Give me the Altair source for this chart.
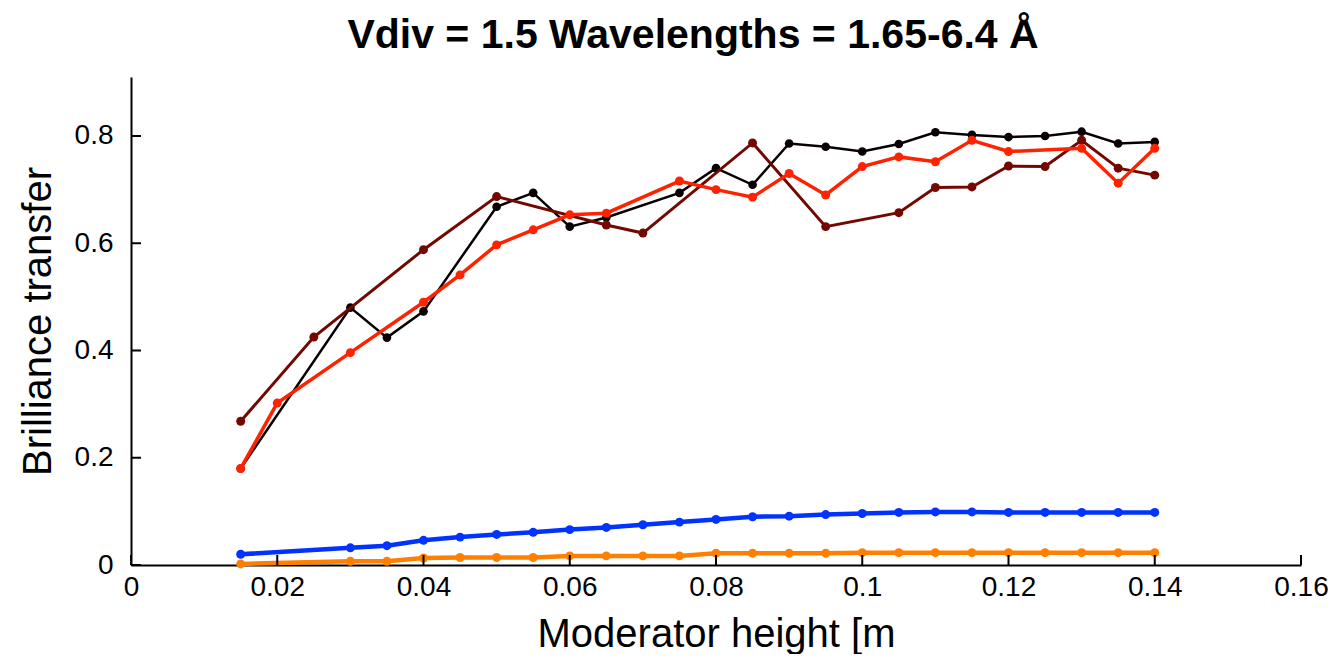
import altair as alt
import pandas as pd

# ---- data ----
x_black = [0.015, 0.03, 0.035, 0.04, 0.05, 0.055, 0.06, 0.065, 0.075, 0.08, 0.085, 0.09,
           0.095, 0.10, 0.105, 0.11, 0.115, 0.12, 0.125, 0.13, 0.135, 0.14]
y_black = [0.180, 0.480, 0.424, 0.473, 0.668, 0.694, 0.631, 0.648, 0.694, 0.740, 0.709, 0.786,
           0.780, 0.771, 0.785, 0.807, 0.802, 0.798, 0.800, 0.808, 0.786, 0.789]

x_dred = [0.015, 0.025, 0.04, 0.05, 0.065, 0.07, 0.085, 0.095, 0.105, 0.11, 0.115, 0.12,
          0.125, 0.13, 0.135, 0.14]
y_dred = [0.268, 0.425, 0.588, 0.687, 0.634, 0.619, 0.787, 0.631, 0.657, 0.704, 0.705, 0.744,
          0.743, 0.792, 0.740, 0.727]

x_red = [0.015, 0.02, 0.03, 0.04, 0.045, 0.05, 0.055, 0.06, 0.065, 0.075, 0.08, 0.085, 0.09,
         0.095, 0.10, 0.105, 0.11, 0.115, 0.12, 0.13, 0.135, 0.14]
y_red = [0.180, 0.302, 0.396, 0.490, 0.541, 0.597, 0.625, 0.653, 0.656, 0.716, 0.700, 0.686, 0.730,
         0.690, 0.743, 0.761, 0.752, 0.792, 0.771, 0.777, 0.712, 0.777]

x_low = [0.015, 0.03, 0.035, 0.04, 0.045, 0.05, 0.055, 0.06, 0.065, 0.07, 0.075, 0.08, 0.085,
         0.09, 0.095, 0.10, 0.105, 0.11, 0.115, 0.12, 0.125, 0.13, 0.135, 0.14]
y_blue = [0.020, 0.032, 0.036, 0.046, 0.052, 0.057, 0.061, 0.066, 0.070, 0.075, 0.080, 0.085, 0.090,
          0.091, 0.094, 0.096, 0.098, 0.099, 0.099, 0.098, 0.098, 0.098, 0.098, 0.098]
y_orange = [0.002, 0.007, 0.007, 0.013, 0.014, 0.014, 0.014, 0.017, 0.017, 0.017, 0.017, 0.022, 0.022,
            0.022, 0.022, 0.023, 0.023, 0.023, 0.023, 0.023, 0.023, 0.023, 0.023, 0.023]

x_ticks = [0, 0.02, 0.04, 0.06, 0.08, 0.10, 0.12, 0.14, 0.16]
y_ticks = [0, 0.2, 0.4, 0.6, 0.8]

TITLE = "Vdiv = 1.5 Wavelengths = 1.65-6.4 Å"
X_TITLE = "Moderator height [m"
Y_TITLE = "Brilliance transfer"

W, H = 1170, 488
FONT = "Liberation Sans"

xscale = alt.Scale(domain=[0, 0.16], nice=False, zero=False)
yscale = alt.Scale(domain=[0, 0.91], nice=False, zero=False)

x_axis = alt.Axis(values=x_ticks, format="~g", title=X_TITLE, titleY=81,
                  titleBaseline="alphabetic")
y_axis = alt.Axis(values=y_ticks, format="~g", title=Y_TITLE, titleX=-81, titleY=H / 2,
                  titleBaseline="alphabetic", titleAngle=270)


def series(xs, ys, color, sw, size):
    df = pd.DataFrame({"x": xs, "y": ys})
    base = alt.Chart(df).encode(
        x=alt.X("x:Q", scale=xscale, axis=x_axis),
        y=alt.Y("y:Q", scale=yscale, axis=y_axis),
    )
    return [base.mark_line(color=color, strokeWidth=sw),
            base.mark_point(filled=True, color=color, size=size, opacity=1, shape="circle")]


layers = []
layers += series(x_black, y_black, "#080000", 2.5, 75)
layers += series(x_dred, y_dred, "#720800", 3, 80)
layers += series(x_red, y_red, "#ff2200", 3.5, 80)
layers += series(x_low, y_blue, "#0033ff", 4.5, 80)
layers += series(x_low, y_orange, "#ff8000", 4.5, 80)

xt = alt.Chart(pd.DataFrame({"t": x_ticks})).mark_rule(color="black", strokeWidth=2).encode(
    x=alt.X("t:Q", scale=xscale, axis=x_axis), y=alt.value(H), y2=alt.value(H - 10))
yt = alt.Chart(pd.DataFrame({"t": y_ticks})).mark_rule(color="black", strokeWidth=2).encode(
    y=alt.Y("t:Q", scale=yscale, axis=y_axis), x=alt.value(0), x2=alt.value(10))
layers += [xt, yt]

chart = alt.layer(*layers).properties(
    width=W, height=H,
    title=alt.TitleParams(TITLE, font=FONT, fontSize=41, fontWeight="bold", anchor="middle",
                          baseline="alphabetic", offset=25, dy=37, dx=-23, color="black",
                          frame="group"),
    autosize=alt.AutoSizeParams(type="none"),
    padding={"left": 123, "top": 69, "right": 27, "bottom": 89},
).configure_view(stroke=None).configure_axis(
    grid=False, ticks=False, domainColor="black", domainWidth=2,
    labelFont=FONT, labelFontSize=28, labelColor="black", labelFlush=False, labelOverlap=False,
    titleFont=FONT, titleFontSize=40, titleFontWeight="normal", titleColor="black",
).configure_axisX(labelPadding=8).configure_axisY(labelPadding=18)

chart.save("out.html", embed_options={"renderer": "svg", "actions": False})
